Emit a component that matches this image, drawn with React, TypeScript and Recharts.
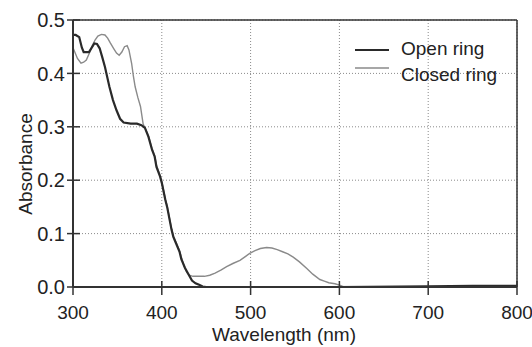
import React from 'react'
import { LineChart, Line, XAxis, YAxis, CartesianGrid, ReferenceLine, Legend } from 'recharts'

// wavelength (nm) / absorbance
const openWl = [300, 303, 307, 310, 312, 318, 324, 327, 330, 333, 336, 341, 345, 349, 353, 357, 365, 372, 377, 381, 385, 389, 392, 394, 398, 400, 404, 406, 411, 413, 416, 420, 422, 426, 430, 434, 438, 442, 446, 450, 500, 600, 700, 750, 800]
const openAbs = [0.472, 0.472, 0.468, 0.448, 0.44, 0.44, 0.456, 0.455, 0.447, 0.43, 0.412, 0.375, 0.35, 0.331, 0.315, 0.308, 0.306, 0.306, 0.303, 0.298, 0.281, 0.257, 0.244, 0.225, 0.207, 0.195, 0.163, 0.15, 0.107, 0.094, 0.082, 0.066, 0.052, 0.036, 0.024, 0.012, 0.007, 0.004, 0.001, 0, 0, 0, 0.001, 0.002, 0.002]

const closedWl = [300, 302, 305, 309, 312, 315, 319, 322, 325, 328, 332, 336, 339, 342, 346, 349, 352, 355, 358, 361, 363, 366, 368, 370, 373, 376, 379, 381, 385, 389, 392, 394, 398, 400, 404, 406, 411, 413, 416, 420, 422, 425, 428, 431, 435, 440, 448, 454, 460, 467, 473, 480, 488, 494, 499, 505, 511, 518, 524, 530, 536, 542, 548, 555, 563, 570, 578, 583, 588, 595, 601, 605, 700, 800]
const closedAbs = [0.448, 0.44, 0.428, 0.419, 0.421, 0.425, 0.44, 0.453, 0.463, 0.47, 0.473, 0.472, 0.466, 0.457, 0.446, 0.438, 0.434, 0.44, 0.45, 0.452, 0.444, 0.419, 0.395, 0.375, 0.355, 0.338, 0.305, 0.298, 0.283, 0.259, 0.246, 0.228, 0.209, 0.197, 0.165, 0.152, 0.109, 0.096, 0.084, 0.068, 0.056, 0.04, 0.028, 0.022, 0.02, 0.02, 0.02, 0.022, 0.026, 0.032, 0.038, 0.044, 0.05, 0.057, 0.063, 0.068, 0.072, 0.074, 0.073, 0.07, 0.066, 0.062, 0.056, 0.047, 0.035, 0.024, 0.014, 0.011, 0.008, 0.006, 0.003, 0, 0, 0]

const xTicks = [300, 400, 500, 600, 700, 800]
const yTicks = [0, 0.1, 0.2, 0.3, 0.4, 0.5]

const openData = openWl.map((w, i) => ({ wl: w, abs: openAbs[i] }))
const closedData = closedWl.map((w, i) => ({ wl: w, abs: closedAbs[i] }))

const FONT = '"Liberation Sans", Arial, sans-serif'
const AXIS = '#333'

const YTick = ({ x, y, payload }: any) => (
  <g>
    <line x1={x - 6} x2={x + 7} y1={y} y2={y} stroke={AXIS} strokeWidth={1.5} />
    <text x={x - 8} y={y} dy="0.36em" textAnchor="end" fontSize={20} fontFamily={FONT} fill="#222">
      {Number(payload.value).toFixed(1)}
    </text>
  </g>
)

const XTick = ({ x, y, payload }: any) => (
  <g>
    <line x1={x} x2={x} y1={y - 6} y2={y + 8} stroke={AXIS} strokeWidth={1.5} />
    <text x={x} y={y + 32} textAnchor="middle" fontSize={19} fontFamily={FONT} fill="#222">
      {payload.value}
    </text>
  </g>
)

const legendItems = [
  { name: 'Open ring', color: '#2a2a2a', width: 2.2, lineY: 15, textTop: 4 },
  { name: 'Closed ring', color: '#8a8a8a', width: 1.4, lineY: 33, textTop: 30 },
]

const renderLegend = () => (
  <div style={{ position: 'relative', width: 180, height: 60, fontFamily: FONT }}>
    {legendItems.map((it) => (
      <React.Fragment key={it.name}>
        <svg style={{ position: 'absolute', left: 3, top: it.lineY - 3 }} width={36} height={6}>
          <line x1={0} x2={34} y1={3} y2={3} stroke={it.color} strokeWidth={it.width} />
        </svg>
        <div style={{ position: 'absolute', left: 49, top: it.textTop, fontSize: 19, lineHeight: '19px', color: '#222', whiteSpace: 'nowrap' }}>
          {it.name}
        </div>
      </React.Fragment>
    ))}
  </div>
)

export default function App() {
  return (
    <div style={{ position: 'absolute', left: 0, top: 0, background: '#fff' }}>
      <LineChart width={532} height={347} margin={{ top: 20, right: 15, left: 23, bottom: 10 }}>
        <CartesianGrid stroke="#8a8a8a" strokeDasharray="1 2" />
        <XAxis
          dataKey="wl"
          type="number"
          domain={[300, 800]}
          ticks={xTicks}
          height={50}
          tickSize={0}
          tickMargin={0}
          tickLine={false}
          tick={<XTick />}
          axisLine={{ stroke: AXIS, strokeWidth: 2 }}
          allowDataOverflow
          label={{
            content: () => (
              <text x={284} y={341} textAnchor="middle" fontSize={19} fontFamily={FONT} fill="#222">
                Wavelength (nm)
              </text>
            ),
          }}
        />
        <YAxis
          type="number"
          domain={[0, 0.5]}
          ticks={yTicks}
          width={50}
          tickSize={0}
          tickMargin={0}
          tickLine={false}
          tick={<YTick />}
          axisLine={{ stroke: AXIS, strokeWidth: 2 }}
          allowDataOverflow
          label={{
            content: () => (
              <text transform="translate(32,164) rotate(-90)" textAnchor="middle" fontSize={19} fontFamily={FONT} fill="#222">
                Absorbance
              </text>
            ),
          }}
        />
        <ReferenceLine y={0.5} stroke={AXIS} strokeWidth={1.5} />
        <ReferenceLine x={800} stroke={AXIS} strokeWidth={1.5} />
        <Line data={closedData} dataKey="abs" type="linear" stroke="#8a8a8a" strokeWidth={1.4} dot={false} isAnimationActive={false} />
        <Line data={openData} dataKey="abs" type="linear" stroke="#2a2a2a" strokeWidth={2.2} dot={false} isAnimationActive={false} />
        <Legend
          layout="vertical"
          align="center"
          verticalAlign="middle"
          content={renderLegend}
          wrapperStyle={{ left: 352, top: 35, width: 180, height: 60 }}
        />
      </LineChart>
    </div>
  )
}
